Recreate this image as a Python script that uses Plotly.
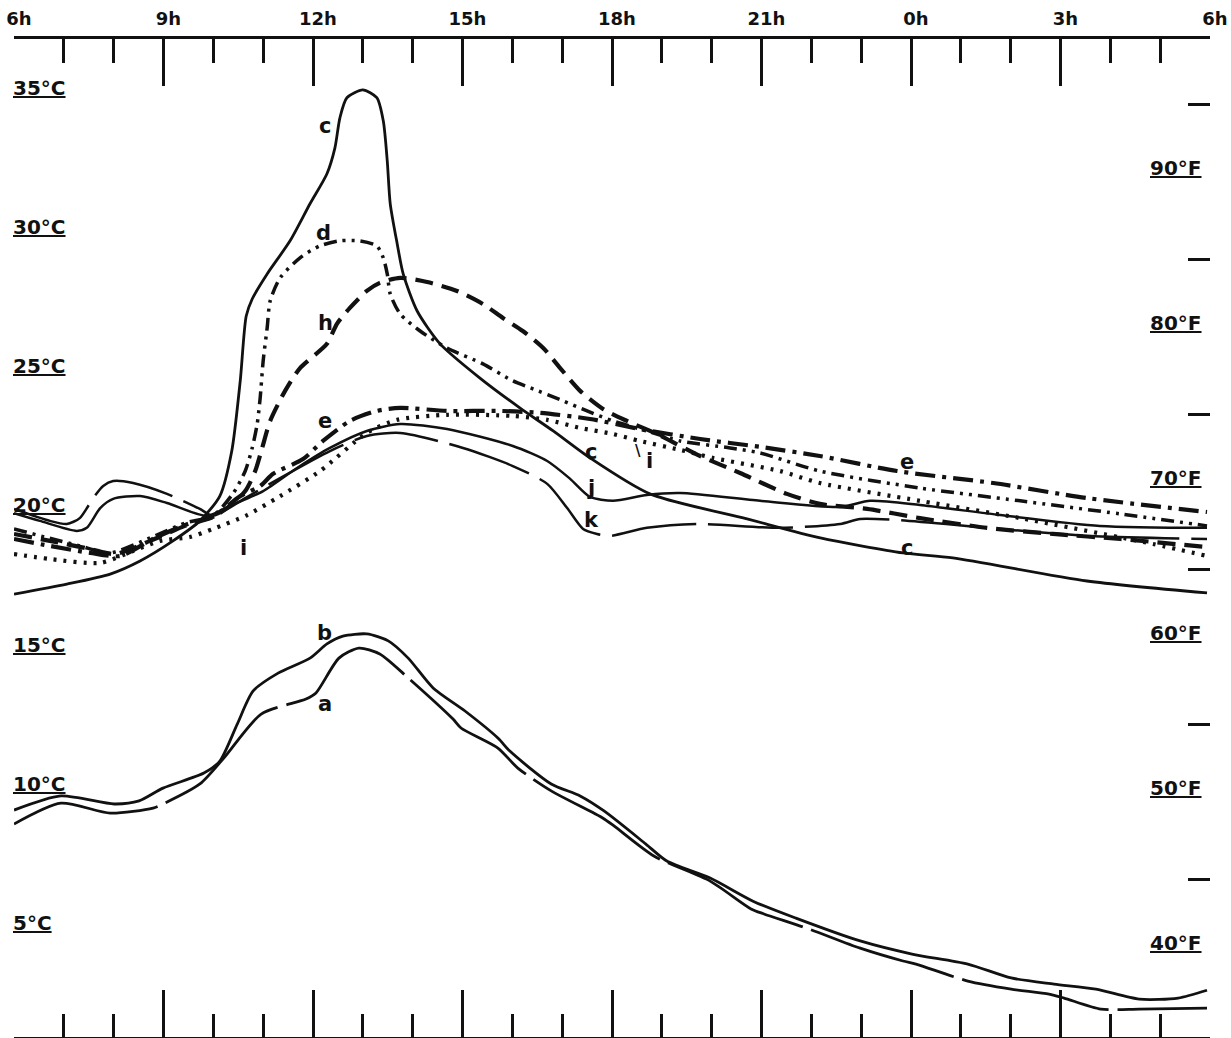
import plotly.graph_objects as go

# ---------------- axis labels ----------------
hour_tickvals = [6, 9, 12, 15, 18, 21, 24, 27, 30]
hour_ticktext = ["6h", "9h", "12h", "15h", "18h", "21h", "0h", "3h", "6h"]
celsius_labels = [35, 30, 25, 20, 15, 10, 5]
fahrenheit_labels = [90, 80, 70, 60, 50, 40]
fahrenheit_ticks = [45, 55, 65, 75, 85, 95]

# ---------------- series (hour of day, °C) ----------------
c_hour = [6.00, 7.06, 7.93, 8.53, 9.19, 9.73, 10.13, 10.37, 10.54, 10.66, 10.78, 11.08, 11.54, 11.94,
          12.28, 12.44, 12.54, 12.68, 13.00, 13.28, 13.41, 13.49, 13.55, 13.69, 13.81, 14.09, 14.55,
          15.35, 16.15, 16.82, 17.56, 18.76, 20.71, 22.18, 23.84, 24.84, 27.53, 29.94]
c_temp = [17.21, 17.57, 17.93, 18.40, 19.12, 19.84, 20.73, 22.35, 24.87, 27.20, 27.81, 28.71, 29.90,
          31.23, 32.31, 33.24, 34.32, 35.04, 35.32, 35.04, 34.21, 32.77, 31.23, 29.79, 28.71, 27.38,
          26.20, 24.97, 23.90, 23.07, 22.10, 20.81, 19.91, 19.23, 18.69, 18.51, 17.68, 17.25]

d_hour = [6.00, 6.62, 7.32, 7.93, 8.73, 9.43, 9.99, 10.39, 10.64, 10.78, 10.88, 10.94, 11.00, 11.08,
          11.14, 11.34, 11.74, 12.14, 12.54, 12.94, 13.28, 13.41, 13.49, 13.55, 13.75, 14.15, 14.69,
          15.41, 16.01, 16.36, 17.02, 17.50, 18.02, 18.70, 19.37, 20.37, 20.97, 22.17, 24.18, 26.19,
          28.20, 29.94]
d_temp = [19.55, 19.26, 18.94, 18.69, 19.23, 19.76, 20.02, 20.81, 21.63, 22.46, 23.32, 24.26, 25.59,
          26.77, 27.74, 28.57, 29.29, 29.72, 29.90, 29.90, 29.72, 29.29, 28.71, 27.99, 27.27, 26.66,
          26.05, 25.48, 24.87, 24.62, 24.15, 23.79, 23.43, 23.07, 22.71, 22.46, 22.28, 21.63, 21.02,
          20.56, 20.09, 19.66]

h_hour = [6.00, 6.72, 7.53, 8.03, 8.73, 9.43, 9.99, 10.33, 10.64, 10.84, 10.98, 11.14, 11.44, 11.74,
          12.28, 12.48, 12.74, 13.08, 13.34, 13.75, 14.29, 14.89, 15.41, 15.81, 16.21, 16.62, 16.96,
          17.36, 17.82, 18.30, 18.90, 19.77, 20.57, 21.51, 22.17, 23.12, 24.18, 25.53, 26.85, 28.20,
          29.94]
h_temp = [19.37, 19.12, 18.83, 18.65, 19.12, 19.66, 19.98, 20.38, 20.91, 21.63, 22.46, 23.43, 24.51,
          25.33, 26.20, 26.92, 27.49, 28.10, 28.39, 28.57, 28.42, 28.10, 27.63, 27.13, 26.66, 26.05,
          25.33, 24.51, 23.86, 23.43, 22.96, 22.17, 21.56, 20.81, 20.45, 20.27, 19.94, 19.59, 19.37,
          19.19, 18.90]

e_hour = [6.00, 6.72, 7.53, 8.13, 8.83, 9.53, 9.99, 10.54, 10.94, 11.20, 11.80, 12.20, 12.74, 13.28,
          13.75, 14.69, 15.75, 16.56, 17.56, 18.56, 19.77, 20.97, 22.17, 23.72, 25.65, 27.53, 29.94]
e_temp = [19.19, 18.94, 18.69, 18.58, 19.23, 19.76, 19.98, 20.73, 21.09, 21.53, 22.06, 22.71, 23.43,
          23.79, 23.90, 23.79, 23.79, 23.72, 23.50, 23.14, 22.78, 22.50, 22.17, 21.63, 21.20, 20.66,
          20.16]

i_hour = [6.00, 6.72, 7.73, 8.39, 8.93, 9.53, 9.99, 10.68, 11.34, 12.14, 13.08, 13.69, 14.69, 16.01,
          16.70, 17.36, 18.02, 18.56, 19.37, 20.03, 21.37, 22.17, 24.18, 26.19, 28.86, 29.94]
i_temp = [18.65, 18.47, 18.33, 18.76, 19.12, 19.26, 19.55, 20.05, 20.73, 21.63, 23.00, 23.47, 23.65,
          23.61, 23.47, 23.18, 22.96, 22.71, 22.39, 22.10, 21.63, 21.20, 20.56, 19.94, 19.01, 18.58]

j_hour = [6.00, 6.52, 7.26, 7.46, 7.73, 7.99, 8.53, 9.07, 9.87, 10.33, 11.00, 11.68, 12.34, 13.08,
          13.75, 14.69, 16.01, 16.70, 17.16, 17.56, 18.02, 18.70, 19.37, 20.97, 22.58, 23.18, 24.18,
          25.79, 27.79, 29.94]
j_temp = [20.12, 19.84, 19.48, 19.59, 20.30, 20.63, 20.73, 20.48, 20.02, 20.38, 20.91, 21.74, 22.46,
          23.07, 23.32, 23.14, 22.53, 21.99, 21.35, 20.70, 20.56, 20.77, 20.84, 20.56, 20.34, 20.56,
          20.41, 20.05, 19.66, 19.59]

k_hour = [6.00, 6.72, 7.06, 7.32, 7.59, 7.79, 7.99, 8.39, 9.07, 9.73, 9.99, 10.64, 11.34, 12.34,
          13.08, 13.75, 15.01, 16.01, 16.70, 17.10, 17.42, 17.70, 17.96, 18.70, 19.71, 21.37, 22.58,
          22.98, 23.72, 25.53, 27.53, 29.94]
k_temp = [20.27, 19.84, 19.73, 19.94, 20.66, 21.09, 21.27, 21.20, 20.81, 20.27, 20.02, 20.66, 21.38,
          22.35, 22.89, 23.00, 22.46, 21.81, 21.17, 20.30, 19.55, 19.37, 19.30, 19.59, 19.73, 19.59,
          19.73, 19.91, 19.87, 19.59, 19.30, 19.19]

b_hour = [6.00, 6.94, 8.01, 8.51, 8.99, 9.81, 10.13, 10.48, 10.80, 11.30, 11.94, 12.28, 12.60, 13.08,
          13.51, 13.91, 14.41, 15.05, 15.71, 15.95, 16.78, 17.36, 17.84, 18.68, 19.10, 19.97, 20.83,
          21.69, 22.98, 24.02, 25.14, 26.01, 26.87, 27.71, 28.58, 29.36, 29.94]
b_temp = [9.45, 9.96, 9.67, 9.78, 10.24, 10.78, 11.21, 12.54, 13.73, 14.37, 14.91, 15.42, 15.70, 15.78,
          15.53, 14.91, 13.84, 13.01, 12.04, 11.57, 10.39, 9.96, 9.42, 8.23, 7.62, 7.01, 6.18, 5.57,
          4.75, 4.28, 3.92, 3.42, 3.20, 3.02, 2.66, 2.70, 2.98]

a_hour = [6.00, 6.94, 7.93, 8.79, 8.99, 9.73, 10.21, 10.96, 11.86, 12.06, 12.52, 12.92, 13.34, 13.91,
          14.81, 14.97, 15.71, 16.11, 16.78, 17.82, 18.04, 18.84, 19.97, 20.79, 21.05, 21.95, 22.98,
          23.84, 24.10, 25.14, 26.01, 26.77, 27.07, 27.81, 28.58, 29.94]
a_temp = [8.95, 9.70, 9.34, 9.52, 9.67, 10.39, 11.32, 12.90, 13.44, 13.66, 14.91, 15.27, 15.06, 14.20,
          12.72, 12.40, 11.68, 10.96, 10.14, 9.16, 8.88, 7.80, 6.90, 5.90, 5.72, 5.18, 4.49, 4.03,
          3.92, 3.31, 3.02, 2.84, 2.70, 2.30, 2.30, 2.34]

# curve letters (plus the small leader stroke beside the second "i")
label_text = ["c", "c", "c", "d", "h", "e", "e", "i", "i", "\\", "j", "k", "b", "a"]
label_hour = [12.24, 17.58, 23.92, 12.22, 12.26, 12.24, 23.92, 10.60, 18.76, 18.52, 17.58, 17.58,
              12.24, 12.24]
label_temp = [34.03, 22.32, 18.87, 30.19, 26.95, 23.43, 21.96, 18.85, 21.99, 22.35, 21.02, 19.87,
              15.81, 13.26]

# ---------------- styles ----------------
INK = "#111111"
styles = {
    "c": dict(width=2.8, dash="solid"),
    "d": dict(width=3.5, dash="13px,6px,3px,6px,3px,6px"),
    "h": dict(width=4.2, dash="18px,9px"),
    "e": dict(width=4.2, dash="20px,7px,4px,7px"),
    "i": dict(width=4.2, dash="3px,7px"),
    "j": dict(width=2.5, dash="solid"),
    "k": dict(width=2.5, dash="85px,12px"),
    "b": dict(width=2.8, dash="solid"),
    "a": dict(width=2.8, dash="150px,9px"),
}
series = {
    "c": (c_hour, c_temp), "d": (d_hour, d_temp), "h": (h_hour, h_temp),
    "e": (e_hour, e_temp), "i": (i_hour, i_temp), "j": (j_hour, j_temp),
    "k": (k_hour, k_temp), "b": (b_hour, b_temp), "a": (a_hour, a_temp),
}

fig = go.Figure()
for name, (xs, ys) in series.items():
    st = styles[name]
    fig.add_trace(go.Scatter(
        x=xs, y=ys, mode="lines", name=name, showlegend=False, hoverinfo="skip",
        line=dict(color=INK, width=st["width"], dash=st["dash"], shape="spline", smoothing=0.7),
    ))

# invisible trace to activate the secondary axes
fig.add_trace(go.Scatter(x=[6, 30], y=[40, 90], xaxis="x2", yaxis="y2", mode="markers",
                         marker=dict(opacity=0), showlegend=False, hoverinfo="skip"))

FONT = "DejaVu Sans"
tickfont = dict(family=FONT, size=18, color=INK, weight="bold")

c_range = [1.30, 37.15]
f_range = [34.85, 99.20]

fig.update_layout(
    width=1231, height=1038,
    margin=dict(l=14, r=21, t=39, b=1),
    paper_bgcolor="white", plot_bgcolor="white",
    xaxis=dict(range=[6, 30], side="top", tickmode="array", tickvals=hour_tickvals,
               ticktext=hour_ticktext, ticks="inside", ticklen=47, tickwidth=2.5, tickcolor=INK,
               showline=True, linewidth=2.5, linecolor=INK, showgrid=False, zeroline=False,
               tickfont=tickfont, ticklabelstandoff=4, ticklabelshift=5,
               ticklabeloverflow="allow",
               minor=dict(dtick=1, ticks="inside", ticklen=24, tickwidth=2.5, tickcolor=INK,
                          showgrid=False)),
    xaxis2=dict(range=[6, 30], overlaying="x", side="bottom", anchor="y", tickmode="array",
                tickvals=hour_tickvals, ticks="inside", ticklen=47, tickwidth=2.5, tickcolor=INK,
                showline=True, linewidth=2.5, linecolor=INK, showgrid=False, zeroline=False,
                showticklabels=False,
                minor=dict(dtick=1, ticks="inside", ticklen=23, tickwidth=2.5, tickcolor=INK,
                           showgrid=False)),
    yaxis=dict(range=c_range, showticklabels=False, ticks="", showline=False, showgrid=False,
               zeroline=False),
    yaxis2=dict(range=f_range, overlaying="y", side="right", anchor="x", tickmode="array",
                tickvals=fahrenheit_ticks, ticks="inside", ticklen=22, tickwidth=2.5,
                tickcolor=INK, showticklabels=False, showline=False, showgrid=False,
                zeroline=False),
)

annots = []
labfont = dict(family=FONT, size=20, color=INK, weight="bold")
for t in celsius_labels:
    annots.append(dict(x=0, xref="paper", y=t, yref="y", xanchor="left", yanchor="bottom",
                       xshift=-3, yshift=-3, text=f"<u>{t}°C</u>", showarrow=False, font=labfont))
for f in fahrenheit_labels:
    annots.append(dict(x=1, xref="paper", y=f, yref="y2", xanchor="right", yanchor="bottom",
                       xshift=-6, yshift=0, text=f"<u>{f}°F</u>", showarrow=False, font=labfont))
for txt, hx, ty in zip(label_text, label_hour, label_temp):
    annots.append(dict(x=hx, y=ty, xref="x", yref="y", xanchor="center", yanchor="middle",
                       text=txt, showarrow=False,
                       font=dict(family=FONT, size=21 if txt != "\\" else 15, color=INK,
                                 weight="bold")))
fig.update_layout(annotations=annots)

# remove the default page margin so the 1231x1038 figure fills the window exactly
fig.write_html(
    "out.html",
    config={"displayModeBar": False},
    post_script="document.body.style.margin='0';document.body.style.overflow='hidden';",
)
